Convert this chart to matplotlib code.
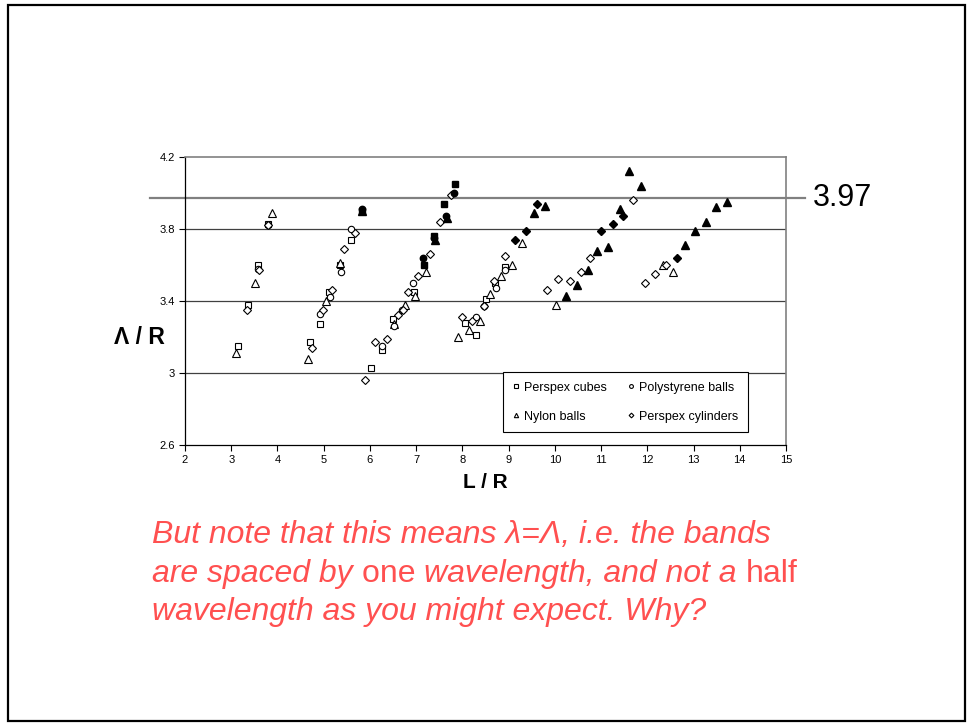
import matplotlib
matplotlib.use("Agg")
import matplotlib.pyplot as plt
from matplotlib.patches import Rectangle

plt.rcParams['font.family'] = ['Liberation Sans', 'DejaVu Sans']

# open markers (legend series)
cubes_x = [3.14, 3.36, 3.57, 3.80, 4.70, 4.93, 5.12, 5.35, 5.58, 6.03, 6.27, 6.49, 6.95, 8.05, 8.29, 8.50, 8.71, 8.93]
cubes_y = [3.15, 3.38, 3.60, 3.83, 3.17, 3.27, 3.45, 3.60, 3.74, 3.03, 3.13, 3.30, 3.45, 3.28, 3.21, 3.41, 3.50, 3.59]

poly_x = [3.58, 3.80, 4.92, 5.14, 5.38, 5.58, 6.27, 6.51, 6.70, 6.94, 8.29, 8.47, 8.72, 8.93]
poly_y = [3.58, 3.82, 3.33, 3.42, 3.56, 3.80, 3.15, 3.26, 3.35, 3.50, 3.31, 3.37, 3.47, 3.57]

nylon_x = [3.10, 3.51, 3.89, 4.65, 5.04, 5.35, 6.51, 6.76, 6.98, 7.21, 7.91, 8.14, 8.39, 8.60, 8.84, 9.08, 9.29, 10.02, 12.33, 12.55]
nylon_y = [3.11, 3.50, 3.89, 3.08, 3.40, 3.61, 3.27, 3.38, 3.43, 3.56, 3.20, 3.24, 3.29, 3.44, 3.54, 3.60, 3.72, 3.38, 3.60, 3.56]

cyl_x = [3.34, 3.59, 3.80, 4.74, 4.98, 5.19, 5.43, 5.68, 5.89, 6.12, 6.36, 6.60, 6.72, 6.82, 7.05, 7.30, 7.52, 7.75,
         7.99, 8.21, 8.47, 8.68, 8.92, 9.84, 10.07, 10.33, 10.56, 10.77, 11.70, 11.94, 12.16, 12.40]
cyl_y = [3.35, 3.57, 3.82, 3.14, 3.35, 3.46, 3.69, 3.78, 2.96, 3.17, 3.19, 3.32, 3.35, 3.45, 3.54, 3.66, 3.84, 3.99,
         3.31, 3.29, 3.37, 3.51, 3.65, 3.46, 3.52, 3.51, 3.56, 3.64, 3.96, 3.50, 3.55, 3.60]

# filled markers (not in legend)
fsq_x = [5.82, 7.16, 7.38, 7.61, 7.83]
fsq_y = [3.90, 3.60, 3.76, 3.94, 4.05]
fci_x = [5.82, 7.15, 7.39, 7.65, 7.82]
fci_y = [3.91, 3.64, 3.75, 3.87, 4.00]
ftr_x = [5.82, 7.40, 7.67, 9.54, 9.78, 10.24, 10.47, 10.71, 10.92, 11.16, 11.40, 11.61, 11.86, 12.81, 13.04, 13.26, 13.49, 13.73]
ftr_y = [3.90, 3.74, 3.86, 3.89, 3.93, 3.43, 3.49, 3.57, 3.68, 3.70, 3.91, 4.12, 4.04, 3.71, 3.79, 3.84, 3.92, 3.95]
fdi_x = [9.14, 9.38, 9.62, 11.00, 11.26, 11.47, 12.65]
fdi_y = [3.74, 3.79, 3.94, 3.79, 3.83, 3.87, 3.64]

ref_level = 3.97
x_ticks = list(range(2, 16))
y_ticks = [2.6, 3.0, 3.4, 3.8, 4.2]
y_labels = ['2.6', '3', '3.4', '3.8', '4.2']

W, H = 967, 723
fig = plt.figure(figsize=(W / 100, H / 100), dpi=100)
fig.patch.set_facecolor('white')

# slide border
fig.patches.append(Rectangle((8 / W, 1 - 721 / H), 957 / W, 716 / H, transform=fig.transFigure,
                             fill=False, edgecolor='black', lw=1.6))

ax = fig.add_axes([185 / W, 1 - 445 / H, 601 / W, 288 / H])
ax.set_xlim(2, 15)
ax.set_ylim(2.6, 4.2)

for yv in y_ticks[1:-1]:
    ax.axhline(yv, color='#404040', lw=0.9, zorder=1)

ms = 4.6
mew = 0.8
h_cubes, = ax.plot(cubes_x, cubes_y, ls='none', marker='s', ms=ms, mfc='white', mec='black', mew=mew, label='Perspex cubes', zorder=3)
h_nylon, = ax.plot(nylon_x, nylon_y, ls='none', marker='^', ms=ms + 0.6, mfc='white', mec='black', mew=mew, label='Nylon balls', zorder=3)
h_poly, = ax.plot(poly_x, poly_y, ls='none', marker='o', ms=ms, mfc='white', mec='black', mew=mew, label='Polystyrene balls', zorder=3)
h_cyl, = ax.plot(cyl_x, cyl_y, ls='none', marker='D', ms=ms - 0.6, mfc='white', mec='black', mew=mew, label='Perspex cylinders', zorder=3)

ax.plot(fsq_x, fsq_y, ls='none', marker='s', ms=ms, color='black', zorder=4)
ax.plot(fci_x, fci_y, ls='none', marker='o', ms=ms, color='black', zorder=4)
ax.plot(ftr_x, ftr_y, ls='none', marker='^', ms=ms + 0.6, color='black', zorder=4)
ax.plot(fdi_x, fdi_y, ls='none', marker='D', ms=ms - 0.6, color='black', zorder=4)

# 3.97 reference line reaching outside the plot
ax.axhline(ref_level, xmin=-0.058, xmax=1.032, color='#808080', lw=1.6, clip_on=False, zorder=2)
ax.text(1.045, ref_level, f'{ref_level:.2f}', transform=ax.get_yaxis_transform(),
        fontsize=22, va='center', ha='left')

ax.set_xticks(x_ticks)
ax.set_yticks(y_ticks)
ax.set_yticklabels(y_labels)
ax.tick_params(direction='out', length=4, width=0.8, labelsize=8, pad=3)
for s in ['top', 'right']:
    ax.spines[s].set_color('#808080')
    ax.spines[s].set_linewidth(1.2)
for s in ['left', 'bottom']:
    ax.spines[s].set_color('black')
    ax.spines[s].set_linewidth(0.9)

ax.set_xlabel('L / R', fontsize=15, fontweight='bold', labelpad=6)
ax.set_ylabel('Λ / R', fontsize=16.5, fontweight='bold', rotation=0, va='center', ha='center')
ax.yaxis.set_label_coords(-0.0765, 0.372)

leg = ax.legend(handles=[h_cubes, h_nylon, h_poly, h_cyl], ncol=2, loc='lower left',
                bbox_to_anchor=(0.529, 0.045), fontsize=9, markerscale=0.6, handlelength=0.6,
                handletextpad=0.35, columnspacing=1.6, labelspacing=1.35, borderpad=0.75,
                borderaxespad=0, fancybox=False, framealpha=1, edgecolor='black')
leg.get_frame().set_linewidth(0.8)

# red comment with mixed italic / upright parts
red = '#ff5050'
lines = [
    [("But note that this means λ=Λ, i.e. the bands", 'italic')],
    [("are spaced by ", 'italic'), ("one ", 'normal'), ("wavelength, and not a ", 'italic'), ("half", 'normal')],
    [("wavelength as you might expect. Why?", 'italic')],
]
baselines = [543, 582, 620]
fig.canvas.draw()
renderer = fig.canvas.get_renderer()
for parts, base in zip(lines, baselines):
    xpix = 152
    for txt, style in parts:
        t = fig.text(xpix / W, 1 - base / H, txt, color=red, fontsize=23, style=style,
                     ha='left', va='baseline')
        bb = t.get_window_extent(renderer)
        xpix += bb.width

fig.savefig('out.png', dpi=100, facecolor='white')
